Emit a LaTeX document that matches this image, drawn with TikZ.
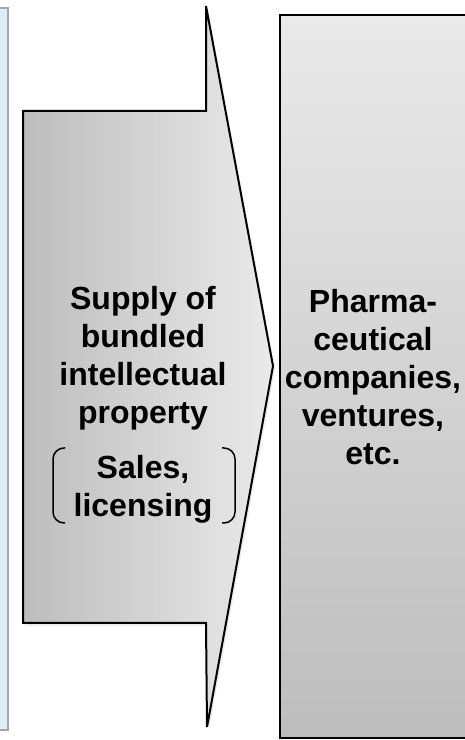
\documentclass[tikz,border=0pt]{standalone}
\usepackage{fontspec}
\setmainfont{Liberation Sans}
\usepackage{tikz}
\usetikzlibrary{shadows}
\definecolor{paleblue}{HTML}{DAEEF3}
\definecolor{edgegray}{HTML}{A6A6A6}
\definecolor{lightfill}{HTML}{EAEAEA}
\definecolor{darkfill}{HTML}{BDBDBD}
\tikzset{boxtext/.style = {font=\fontsize{32}{38}\selectfont\bfseries,
                           align=center, inner sep=0}}
\tikzset{outline/.style = {draw=black, line width=2, line join=miter}}
\tikzset{bracket/.style = {draw=black, line width=1.5, rounded corners=11}}

\begin{document}
\begin{tikzpicture}[x=1pt, y=1pt]
  \useasboundingbox (0,0) rectangle (464,740);
  \draw [fill=paleblue, draw=edgegray, line width=2] (-10,10) rectangle (8,732);
  \draw [outline, left color=darkfill, right color=lightfill,
         drop shadow={shadow xshift=2, shadow yshift=-3, opacity=0.15}]
        (23,629) -- (206,629) -- (206,734) -- (273,374) -- (207,13)
        -- (206,117) -- (23,117) -- cycle;
  \draw [outline, top color=lightfill, bottom color=darkfill] (280,725) rectangle (480,2);
  \node [boxtext] (supply) at (143,381.5) {Supply of\\bundled\\intellectual\\property};
  \node [boxtext] (sales) at (143,250.5) {Sales,\\licensing};
  \draw [bracket] (65,292) -- (53,292) -- (53,217) -- (65,217);
  \draw [bracket] (222,292) -- (235,292) -- (235,217) -- (222,217);
  \node [boxtext] (pharma) at (373,363) {Pharma-\\ceutical\\companies,\\ventures,\\etc.};
\end{tikzpicture}
\end{document}
